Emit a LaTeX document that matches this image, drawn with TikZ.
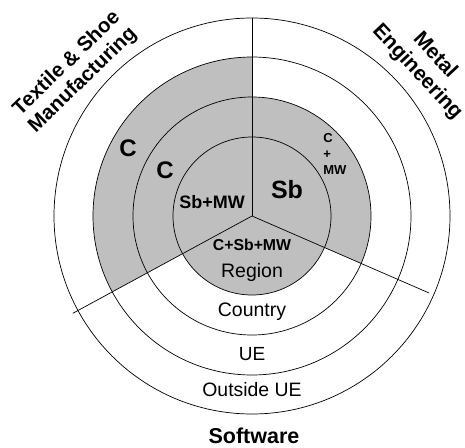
\documentclass[tikz,border=0pt]{standalone}
\usepackage{fontspec}
\setmainfont{Liberation Sans}
\usepackage{tikz}
\def\fsz#1#2{\fontsize{#1}{#2}\selectfont}

\begin{document}
\begin{tikzpicture}[x=1pt,y=1pt,line width=0.7pt]
				\useasboundingbox (-252,-231) rectangle (213,216);
				
				\fill[black!25] (0,0) -- (90:159) arc (90:208.5:159) -- cycle;
				\fill[black!25] (0,0) -- (-23.5:119) arc (-23.5:90:119) -- cycle;
				\draw[fill=black!25] (0,0) circle (79);
				\draw (0,0) circle (119);
				\draw (0,0) circle (159);
				\draw (0,0) circle (198);
				
				\draw (0,0) -- (90:198);
				\draw (0,0) -- (208.5:204);
				\draw (0,0) -- (336.5:193);
				
				\node[font=\bfseries\fsz{20.5}{23}, align=center, rotate=44] (textile) at (-177,144) {Textile \& Shoe\\Manufacturing};
				\node[font=\bfseries\fsz{21}{24}, align=center, rotate=-47] (metal) at (174,152) {Metal\\Engineering};
				\node[font=\bfseries\fsz{21.5}{24}, inner sep=1pt] (software) at (2,-220) {Software};
				
				\node[font=\bfseries\fsz{24}{24}] (cout) at (-124,68) {C};
				\node[font=\bfseries\fsz{24}{24}] (cin) at (-87,46) {C};
				\node[font=\bfseries\fsz{18}{20}] (sbmw) at (-40,14) {Sb+MW};
				\node[font=\bfseries\fsz{25}{25}] (sb) at (35,26) {Sb};
				\node[font=\bfseries\fsz{13}{16}, align=left, anchor=west, inner sep=0pt] (cmw) at (71,62) {C\\+\\MW};
				\node[font=\bfseries\fsz{15.8}{18}] (csbmw) at (0,-29) {C+Sb+MW};
				\node[font=\fsz{19.5}{22}] (region) at (0,-56) {Region};
				\node[font=\fsz{19.5}{22}] (country) at (0,-96) {Country};
				\node[font=\fsz{19}{22}] (ue) at (0,-138) {UE};
				\node[font=\fsz{19.4}{22}] (outside) at (0,-174) {Outside UE};
			\end{tikzpicture}
\end{document}
